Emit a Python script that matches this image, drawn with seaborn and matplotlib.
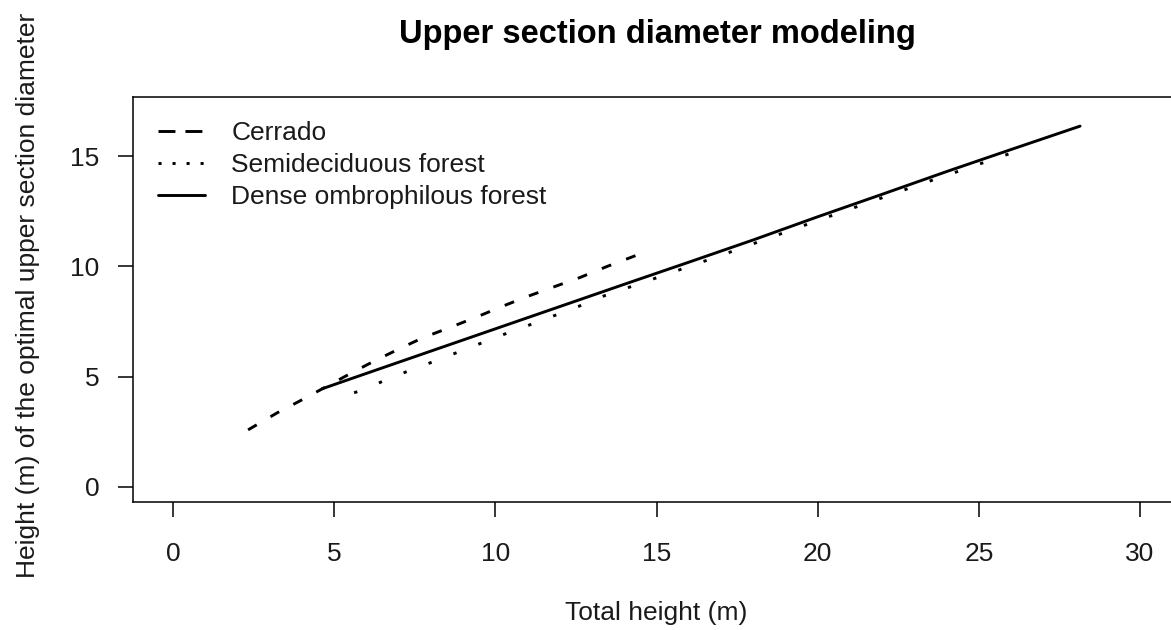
import matplotlib
matplotlib.use("Agg")
import matplotlib.pyplot as plt
from matplotlib.lines import Line2D
import seaborn as sns
import pandas as pd

# ---- data ----
cerrado_x = [2.33, 3.23, 4.0, 5.55, 6.27, 7.1, 7.76, 8.66, 9.46, 10.2, 11.0, 11.85, 12.63, 13.47, 14.37]
cerrado_y = [2.59, 3.36, 3.95, 5.18, 5.73, 6.32, 6.77, 7.27, 7.73, 8.18, 8.64, 9.09, 9.5, 10.0, 10.5]

semi_x = [5.62, 6.05, 6.83, 7.66, 9.28, 10.08, 10.92, 11.76, 12.57, 13.4, 14.58, 17.0, 20.0, 23.0, 26.19]
semi_y = [4.27, 4.5, 5.0, 5.45, 6.36, 6.82, 7.27, 7.73, 8.18, 8.68, 9.27, 10.5, 12.08, 13.63, 15.23]

dense_x = [4.62, 6.0, 8.0, 10.0, 12.0, 14.0, 16.0, 18.0, 20.0, 22.0, 24.0, 26.0, 28.14]
dense_y = [4.45, 5.15, 6.16, 7.17, 8.18, 9.19, 10.19, 11.2, 12.25, 13.27, 14.3, 15.3, 16.36]

labels = ["Cerrado", "Semideciduous forest", "Dense ombrophilous forest"]
x_ticks = [0, 5, 10, 15, 20, 25, 30]
y_ticks = [0, 5, 10, 15]

title = "Upper section diameter modeling"
xlabel = "Total height (m)"
ylabel = "Height (m) of the optimal upper section diameter"

# ---- style ----
sns.set_theme(style="ticks")
plt.rcParams["font.family"] = ["Liberation Sans", "DejaVu Sans"]
plt.rcParams["lines.scale_dashes"] = False

fig = plt.figure(figsize=(11.71, 6.30), dpi=100)
W, H = 1171, 630
ax = fig.add_axes([133 / W, (H - 502) / H, (W - 133) / W, (502 - 97) / H])

lw = 2.1
series = [
    (cerrado_x, cerrado_y, labels[0], (7.2, 11.5)),
    (semi_x, semi_y, labels[1], (2.4, 16.8)),
    (dense_x, dense_y, labels[2], None),
]
for xs, ys, lab, dash in series:
    df = pd.DataFrame({"x": xs, "y": ys})
    sns.lineplot(data=df, x="x", y="y", ax=ax, color="black", linewidth=lw,
                 legend=False, errorbar=None)
    line = ax.lines[-1]
    if dash is not None:
        line.set_dashes(dash)
        line.set_dash_capstyle("butt")

ax.set_xlim(-1.24, 30.96)
ax.set_ylim(-0.68, 17.68)
ax.set_xticks(x_ticks)
ax.set_yticks(y_ticks)
ax.tick_params(axis="both", direction="out", length=11, width=1.1, color="black",
               labelsize=19, labelcolor="#1a1a1a")
ax.tick_params(axis="x", pad=17.5)
ax.tick_params(axis="y", pad=13)

for side in ["left", "bottom", "top"]:
    ax.spines[side].set_visible(True)
    ax.spines[side].set_color("black")
    ax.spines[side].set_linewidth(1.1)
ax.spines["right"].set_visible(False)

ax.set_xlabel(xlabel, fontsize=19, color="#1a1a1a")
ax.set_ylabel(ylabel, fontsize=19, color="#1a1a1a")
ax.xaxis.label.set_va("center")
ax.yaxis.label.set_va("center")
ax.xaxis.set_label_coords(0.504, -0.275)
ax.yaxis.set_label_coords(-0.101, 0.511)

fig.text(657 / W, 1 - 35 / H, title, fontsize=23.5, fontweight="bold",
         ha="center", va="center", color="black")

handles = [
    Line2D([], [], color="black", lw=lw, dashes=(12.2, 7.2), dash_capstyle="butt"),
    Line2D([], [], color="black", lw=lw, dashes=(2.2, 7.9), dash_capstyle="butt"),
    Line2D([], [], color="black", lw=lw),
]
ax.legend(handles, labels, loc="upper left", frameon=False, fontsize=19,
          bbox_to_anchor=(158 / W, 1 - 121 / H), bbox_transform=fig.transFigure,
          handlelength=1.78, handletextpad=1.0, labelspacing=0.3,
          borderpad=0.0, borderaxespad=0.0, labelcolor="#1a1a1a")

fig.savefig("out.png", dpi=100)
